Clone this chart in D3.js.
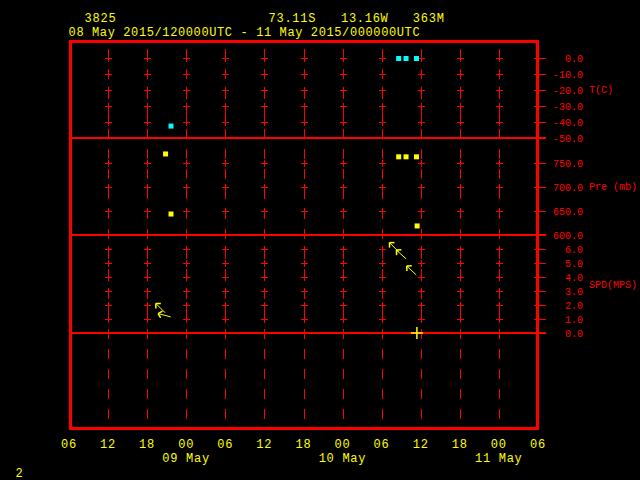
<!DOCTYPE html>
<html><head><meta charset="utf-8">
<script src="https://cdn.jsdelivr.net/npm/d3@7"></script>
<style>html,body{margin:0;padding:0;background:#000;} svg{display:block;}</style>
</head><body><svg id="c" width="640" height="480"></svg>
<script>
// ---- header / meta data ----
const stationId = "3825";
const stationLat = "73.11S";
const stationLon = "13.16W";
const stationElev = "363M";
const periodLabel = "08 May 2015/120000UTC - 11 May 2015/000000UTC";
const pageNumber = "2";

// ---- time axis ----
const axisStart = "2015-05-08T06:00:00Z";
const axisEnd = "2015-05-11T06:00:00Z";

// ---- section ticks ----
const tempTicks = [0, -10, -20, -30, -40, -50];
const presTicks = [750, 700, 650, 600];
const spdTicks = [0, 1, 2, 3, 4, 5, 6];
const sectionTitles = ["T(C)", "Pre (mb)", "SPD(MPS)"];

// ---- observations ----
const tempTimes = ["2015-05-08T21:35Z", "2015-05-10T08:32Z", "2015-05-10T09:40Z", "2015-05-10T11:16Z"];
const tempValues = [-42.5, 0.0, 0.0, 0.0];

const presTimes = ["2015-05-08T20:45Z", "2015-05-08T21:35Z", "2015-05-10T08:32Z", "2015-05-10T09:40Z", "2015-05-10T11:16Z", "2015-05-10T11:22Z"];
const presValues = [770, 644, 764, 764, 764, 619];

const windTimes = ["2015-05-08T20:40Z", "2015-05-08T21:32Z", "2015-05-10T08:32Z", "2015-05-10T09:40Z", "2015-05-10T11:14Z", "2015-05-10T11:20Z"];
const windSpeeds = [1.45, 1.15, 5.8, 5.3, 4.15, 0.0];
const windDirs = [135, 105, 135, 132, 133, 0];

// ---- drawing ----
const RED = "#ff0000", YEL = "#ffff00", CYN = "#00ffff";
const FONT = "'Liberation Mono', 'DejaVu Sans Mono', monospace";
const svg = d3.select("#c");
svg.append("rect").attr("width", 640).attr("height", 480).attr("fill", "#000");

const t0 = new Date(axisStart), t1 = new Date(axisEnd);
const x = d3.scaleUtc().domain([t0, t1]).range([69.5, 538.5]);
const yT = d3.scaleLinear().domain([0, -50]).range([58.5, 138]);
const yP = d3.scaleLinear().domain([750, 600]).range([163.5, 235]);
const yW = d3.scaleLinear().domain([0, 7]).range([333, 235]);

const frameL = x(t0) + 1, frameR = x(t1) - 1, frameT = 41.5, frameB = 428.5;
const crisp = v => Math.floor(v) + 0.5;

const tickTimes = d3.utcHour.every(6).range(t0, new Date(+t1 + 1));
const innerTimes = tickTimes.slice(1, -1);

const g = svg.append("g").attr("shape-rendering", "crispEdges");

// dashed vertical time lines
g.selectAll("line.col").data(innerTimes).join("line")
  .attr("x1", d => crisp(x(d))).attr("x2", d => crisp(x(d)))
  .attr("y1", 49).attr("y2", frameB - 1)
  .attr("stroke", RED).attr("stroke-width", 1).attr("stroke-dasharray", "10,10");

// tick sets for crosses (exclude section boundaries)
const crossRows = [
  ...tempTicks.filter(v => v !== -50).map(v => yT(v)),
  ...presTicks.filter(v => v !== 600).map(v => yP(v)),
  ...spdTicks.filter(v => v !== 0).map(v => yW(v))
];
const crossData = [];
innerTimes.forEach(t => crossRows.forEach(yy => crossData.push({ cx: crisp(x(t)), cy: crisp(yy) })));
g.selectAll("line.ch").data(crossData).join("line")
  .attr("x1", d => d.cx - 3.5).attr("x2", d => d.cx + 3.5)
  .attr("y1", d => d.cy).attr("y2", d => d.cy)
  .attr("stroke", RED).attr("stroke-width", 1);
g.selectAll("line.cv").data(crossData).join("line")
  .attr("x1", d => d.cx).attr("x2", d => d.cx)
  .attr("y1", d => d.cy - 3.5).attr("y2", d => d.cy + 3.5)
  .attr("stroke", RED).attr("stroke-width", 1);

// right axis tick marks
g.selectAll("line.rt").data(crossRows).join("line")
  .attr("x1", frameR - 4).attr("x2", frameR + 8)
  .attr("y1", d => crisp(d)).attr("y2", d => crisp(d))
  .attr("stroke", RED).attr("stroke-width", 1);

// section separator lines
const sepRows = [yT(-50), yP(600), yW(0)];
g.selectAll("line.sep").data(sepRows).join("line")
  .attr("x1", frameL).attr("x2", frameR + 8)
  .attr("y1", d => Math.round(d)).attr("y2", d => Math.round(d))
  .attr("stroke", RED).attr("stroke-width", 2);

// frame
g.append("rect").attr("x", frameL).attr("y", frameT)
  .attr("width", frameR - frameL).attr("height", frameB - frameT)
  .attr("fill", "none").attr("stroke", RED).attr("stroke-width", 3);

// right labels
const fmt = v => d3.format(".1f")(v).replace("\u2212", "-");
const rLabels = [
  ...tempTicks.map(v => ({ t: fmt(v), y: yT(v) })),
  ...presTicks.map(v => ({ t: fmt(v), y: yP(v) })),
  ...spdTicks.map(v => ({ t: fmt(v), y: yW(v) }))
];
svg.selectAll("text.rl").data(rLabels).join("text")
  .attr("x", 583).attr("y", d => d.y + 3.5).attr("text-anchor", "end")
  .attr("fill", RED).attr("font-family", FONT).attr("font-size", 10).text(d => d.t);
const secMid = [(frameT + yT(-50)) / 2, (yT(-50) + yP(600)) / 2, (yP(600) + yW(0)) / 2];
svg.selectAll("text.st").data(sectionTitles).join("text")
  .attr("x", 589).attr("y", (d, i) => secMid[i] + 3.5)
  .attr("fill", RED).attr("font-family", FONT).attr("font-size", 10).text(d => d);

// bottom time labels (12px glyphs at the reference's 7.8px pitch)
const hourLabels = tickTimes.map(d => ({ d, t: d3.utcFormat("%H")(d) }));
svg.selectAll("text.bt").data(hourLabels).join("text")
  .attr("x", d => x(d.d) - 1).attr("y", 448).attr("text-anchor", "middle")
  .attr("textLength", d => d.t.length * 7.6).attr("lengthAdjust", "spacing")
  .attr("fill", YEL).attr("font-family", FONT).attr("font-size", 12).text(d => d.t);
const dayLabels = tickTimes.filter(d => d.getUTCHours() === 0).map(d => ({ d, t: d3.utcFormat("%d %b")(d) }));
svg.selectAll("text.bd").data(dayLabels).join("text")
  .attr("x", d => x(d.d) - 1).attr("y", 462).attr("text-anchor", "middle")
  .attr("textLength", d => d.t.length * 7.8).attr("lengthAdjust", "spacing")
  .attr("fill", YEL).attr("font-family", FONT).attr("font-size", 12).text(d => d.t);

// header (12px glyphs stretched to the reference's 7.8px character pitch)
const hdr = [
  { t: stationId, x: 84.5, y: 21.5 },
  { t: stationLat, x: 268.6, y: 21.5 },
  { t: stationLon, x: 341, y: 21.5 },
  { t: stationElev, x: 412.7, y: 21.5 },
  { t: periodLabel, x: 68.6, y: 35.5 }
];
svg.selectAll("text.hd").data(hdr).join("text")
  .attr("x", d => d.x).attr("y", d => d.y)
  .attr("textLength", d => d.t.length * 7.8).attr("lengthAdjust", "spacing")
  .attr("fill", YEL).attr("font-family", FONT).attr("font-size", 12).text(d => d.t);
svg.append("text").attr("x", 15.5).attr("y", 476.5)
  .attr("fill", YEL).attr("font-family", FONT).attr("font-size", 12).text(pageNumber);

// temperature squares
svg.selectAll("rect.tp").data(tempTimes.map((t, i) => ({ t: new Date(t), v: tempValues[i] }))).join("rect")
  .attr("x", d => x(d.t) - 2.5).attr("y", d => yT(d.v) - 2.5).attr("width", 5).attr("height", 5)
  .attr("fill", CYN);

// pressure squares
svg.selectAll("rect.pr").data(presTimes.map((t, i) => ({ t: new Date(t), v: presValues[i] }))).join("rect")
  .attr("x", d => x(d.t) - 2.5).attr("y", d => yP(d.v) - 2.5).attr("width", 5).attr("height", 5)
  .attr("fill", YEL);

// wind arrows (tail at obs, pointing downwind)
const L = 13, HL = 5;
const winds = windTimes.map((t, i) => ({ t: new Date(t), s: windSpeeds[i], d: windDirs[i] }));
const wg = svg.append("g");
winds.forEach(w => {
  const tx = x(w.t), ty = yW(w.s);
  if (w.s === 0) {
    wg.append("line").attr("x1", tx - 6).attr("x2", tx + 6).attr("y1", ty).attr("y2", ty)
      .attr("stroke", YEL).attr("stroke-width", 1.5);
    wg.append("line").attr("x1", tx).attr("x2", tx).attr("y1", ty - 6).attr("y2", ty + 6)
      .attr("stroke", YEL).attr("stroke-width", 1.5);
    return;
  }
  const h = (w.d + 180) * Math.PI / 180;
  const dx = Math.sin(h), dy = -Math.cos(h);
  const hx = tx + L * dx, hy = ty + L * dy;
  wg.append("line").attr("x1", tx).attr("y1", ty).attr("x2", hx).attr("y2", hy)
    .attr("stroke", YEL).attr("stroke-width", 1);
  [Math.PI / 4, -Math.PI / 4].forEach(a => {
    const bx = -dx * Math.cos(a) + dy * Math.sin(a);
    const by = -dy * Math.cos(a) - dx * Math.sin(a);
    wg.append("line").attr("x1", hx).attr("y1", hy)
      .attr("x2", hx + HL * bx).attr("y2", hy + HL * by)
      .attr("stroke", YEL).attr("stroke-width", 1.5);
  });
});
</script>
</body></html>
